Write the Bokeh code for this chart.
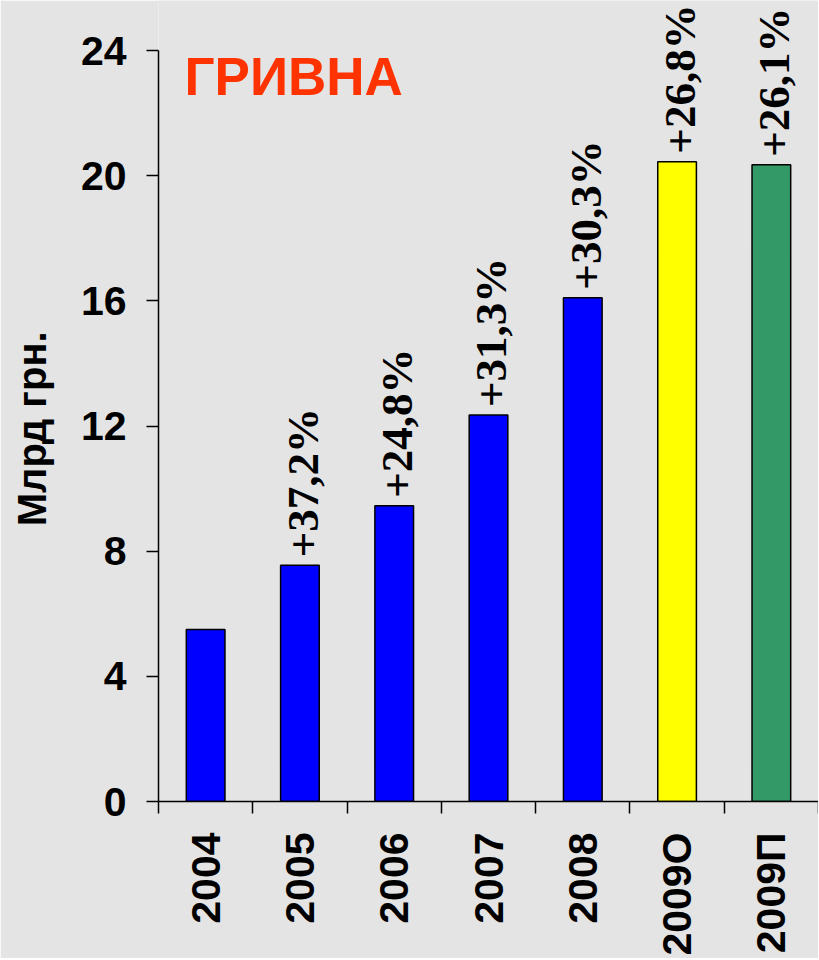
import numpy as np
from math import pi
from bokeh.plotting import figure
from bokeh.models import Range1d, FixedTicker, LinearAxis, LabelSet, Label, ColumnDataSource
from bokeh.embed import file_html
from bokeh.resources import INLINE

# ---- data ----
categories = ["2004", "2005", "2006", "2007", "2008", "2009О", "2009П"]
values = [5.5, 7.55, 9.45, 12.35, 16.1, 20.45, 20.35]
growth_labels = ["", "+37,2%", "+24,8%", "+31,3%", "+30,3%", "+26,8%", "+26,1%"]
bar_colors = ["#0000ff", "#0000ff", "#0000ff", "#0000ff", "#0000ff", "#ffff00", "#339966"]
y_ticks = [0, 4, 8, 12, 16, 20, 24]
title_text = "ГРИВНА"
y_label = "Млрд грн."

FONT = "Liberation Sans"
BG = "#e4e4e4"

n = len(categories)
centers = list(np.arange(n) + 0.5)
edges = list(np.arange(n + 1).astype(float))

src = ColumnDataSource(dict(x=centers, top=values, color=bar_colors, lab=growth_labels))

p = figure(
    frame_width=660, frame_height=801,
    min_border_left=158, min_border_top=0, min_border_right=0, min_border_bottom=140,
    x_range=Range1d(0, n), y_range=Range1d(0, 25.6),
    output_backend="svg", toolbar_location=None,
    x_axis_location=None, y_axis_location=None,
)
p.background_fill_color = BG
p.border_fill_color = BG
p.outline_line_color = None
p.grid.visible = False

p.vbar(x="x", top="top", bottom=0, width=0.41, fill_color="color",
       line_color="black", line_width=1.5, source=src)

# y axis (label padded with no-break spaces so it centres on the 0-24 axis span)
yaxis = LinearAxis(ticker=FixedTicker(ticks=y_ticks), axis_label=y_label + "\u00a0" * 5,
                   bounds=(0, 24))
yaxis.axis_line_width = 1.5
yaxis.major_tick_out = 12
yaxis.major_tick_in = 0
yaxis.major_tick_line_width = 1.5
yaxis.minor_tick_line_color = None
yaxis.major_label_standoff = 20
yaxis.major_label_text_font = FONT
yaxis.major_label_text_font_style = "bold"
yaxis.major_label_text_font_size = "41px"
yaxis.major_label_text_color = "black"
yaxis.axis_label_text_font = FONT
yaxis.axis_label_text_font_style = "bold"
yaxis.axis_label_text_font_size = "40px"
yaxis.axis_label_text_color = "black"
yaxis.axis_label_standoff = 24
p.add_layout(yaxis, "left")

# x axis: labels at centers, ticks (minor) at category edges
xaxis = LinearAxis(ticker=FixedTicker(ticks=centers, minor_ticks=edges))
xaxis.major_label_overrides = {c: lab for c, lab in zip(centers, categories)}
xaxis.axis_line_width = 1.5
xaxis.major_tick_line_color = None
xaxis.major_tick_out = 0
xaxis.major_tick_in = 0
xaxis.minor_tick_out = 12
xaxis.minor_tick_in = 0
xaxis.minor_tick_line_width = 1.5
xaxis.minor_tick_line_color = "black"
xaxis.major_label_orientation = pi / 2
xaxis.major_label_standoff = 19
xaxis.major_label_text_font = FONT
xaxis.major_label_text_font_style = "bold"
xaxis.major_label_text_font_size = "41px"
xaxis.major_label_text_color = "black"
p.add_layout(xaxis, "below")

# growth labels above bars
labels = LabelSet(x="x", y="top", text="lab", source=src, angle=pi / 2,
                  text_align="left", text_baseline="middle", y_offset=8, x_offset=3,
                  text_font=FONT, text_font_style="bold", text_font_size="45px",
                  text_color="black")
p.add_layout(labels)

title = Label(x=0.276, y=23.16, text=title_text, text_font=FONT, text_font_style="bold",
              text_font_size="53px", text_color="#ff3300", text_baseline="alphabetic",
              text_align="left")
p.add_layout(title)

open("out.html", "w").write(file_html(p, INLINE))
